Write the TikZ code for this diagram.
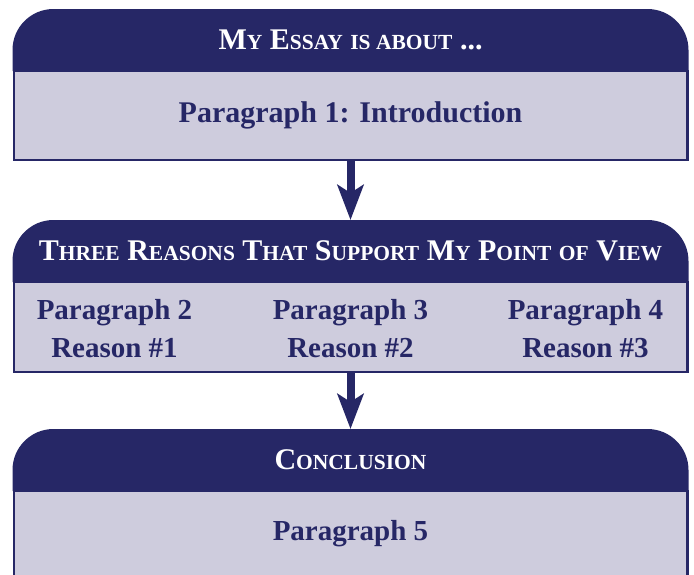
\documentclass[tikz,border=0pt]{standalone}
\usepackage{fontspec}
\setmainfont{Liberation Serif}
\usetikzlibrary{positioning,arrows.meta}
\definecolor{essaynavy}{RGB}{38,39,102}
\definecolor{essaylilac}{RGB}{206,204,221}
\pgfdeclarelayer{backlayer}
\pgfdeclarelayer{nodelayer}
\pgfdeclarelayer{edgelayer}
\pgfsetlayers{backlayer,edgelayer,nodelayer,main}
\newcommand{\bigsc}{\fontsize{30}{34}\selectfont}
\newcommand{\smallsc}{\fontsize{21.5}{24}\selectfont}
\newcommand{\capword}[2]{{\bigsc #1}{\smallsc #2}}
\tikzstyle{head box}=[minimum width=676pt, minimum height=62pt, inner sep=0pt, outer sep=0pt, text=white, font=\bfseries\bigsc]
\tikzstyle{body box}=[draw=essaynavy, fill=essaylilac, line width=2.5pt, minimum width=673.5pt, inner sep=0pt, outer sep=0pt, text=essaynavy, font=\bfseries\fontsize{30}{36}\selectfont, align=center]
\tikzstyle{reason text}=[text=essaynavy, inner sep=0pt, font=\bfseries\fontsize{29}{38}\selectfont, align=center]
\tikzstyle{flow edge}=[draw=essaynavy, line width=8pt, -{Stealth[length=35pt, width=26pt, inset=8pt]}]

\begin{document}
\begin{tikzpicture}[x=1pt, y=1pt]
	\useasboundingbox (0,0) rectangle (694,-574);
	\begin{pgfonlayer}{nodelayer}
		\node [style=head box] (h1) at (350.5,-40) {\capword{M}{Y} \capword{E}{SSAY} {\smallsc IS ABOUT} ...};
		\node [style=body box, minimum height=89pt, below=0pt of h1] (b1) {Paragraph 1: Introduction};
		\node [style=head box, below=60pt of b1] (h2) {\capword{T}{HREE} \capword{R}{EASONS} \capword{T}{HAT} \capword{S}{UPPORT} \capword{M}{Y} \capword{P}{OINT} {\smallsc OF} \capword{V}{IEW}};
		\node [style=body box, minimum height=90pt, below=0pt of h2] (b2) {};
		\node [style=reason text] (r1) at ([xshift=-236pt, yshift=-1.5pt]b2.center) {Paragraph 2\\Reason \#1};
		\node [style=reason text] (r2) at ([yshift=-1.5pt]b2.center) {Paragraph 3\\Reason \#2};
		\node [style=reason text] (r3) at ([xshift=235pt, yshift=-1.5pt]b2.center) {Paragraph 4\\Reason \#3};
		\node [style=head box, below=57pt of b2] (h3) {\capword{C}{ONCLUSION}};
		\node [style=body box, minimum height=110pt, below=0pt of h3] (b3) {};
		\node [style=reason text] (p5) at ([yshift=-43pt]h3.south) {Paragraph 5};
	\end{pgfonlayer}
	\begin{pgfonlayer}{backlayer}
		\foreach \h in {h1,h2,h3}
			\fill [essaynavy] (\h.south west) [rounded corners=41pt] -- (\h.north west) -- (\h.north east) -- (\h.south east);
	\end{pgfonlayer}
	\begin{pgfonlayer}{edgelayer}
		\draw [style=flow edge] (b1) to (h2);
		\draw [style=flow edge] (b2) to (h3);
	\end{pgfonlayer}
\end{tikzpicture}
\end{document}
